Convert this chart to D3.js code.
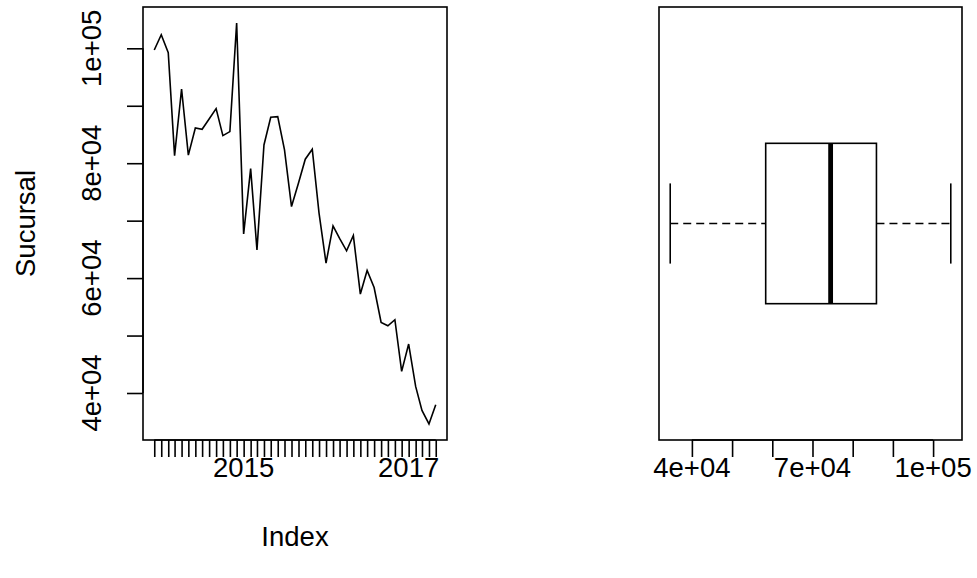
<!DOCTYPE html>
<html>
<head>
<meta charset="utf-8">
<script src="https://cdn.jsdelivr.net/npm/d3@7"></script>
<style>
  body { margin: 0; background: #fff; }
  svg text { font-family: "Liberation Sans", Arial, sans-serif; fill: #000; }
</style>
</head>
<body>
<svg id="chart" width="977" height="578"></svg>
<script>
// monthly series, Dec 2013 .. May 2017
var firstMonth = new Date(2013, 11, 1);
var sucursal = [
  99700, 102370, 99230, 81320, 92920, 81400, 86140, 85910, 87700, 89500,
  84800, 85500, 104400, 67700, 79060, 64920, 83180, 88000, 88100, 82310,
  72450, 76570, 80700, 82430, 71300, 62610, 69100, 66920, 64750, 67410,
  57220, 61320, 58360, 52280, 51700, 52750, 43760, 48520, 41150, 36970,
  34610, 37970
];
var yearLabels = [2015, 2017];
var yTicks = [40000, 50000, 60000, 70000, 80000, 90000, 100000];
var yLabels = [40000, 60000, 80000, 100000];
var boxTicks = [40000, 50000, 60000, 70000, 80000, 90000, 100000];
var boxLabels = [40000, 70000, 100000];

var months = sucursal.map(function(d, i) { return d3.timeMonth.offset(firstMonth, i); });
var series = sucursal.map(function(v, i) { return { date: months[i], value: v }; });

var svg = d3.select('#chart');
var fontSize = 27.5;
var lw = 1.6;

// R style number label, e.g. 4e+04
function sci(v) {
  var e = Math.floor(Math.log10(v));
  var m = +(v / Math.pow(10, e)).toFixed(6);
  return m + 'e+' + (e < 10 ? '0' + e : e);
}

// R pads the data range by 4% on each side
function padded(ext) {
  var r = ext[1] - ext[0];
  return [ext[0] - 0.04 * r, ext[1] + 0.04 * r];
}

/* ---------- left panel: time series ---------- */
var L = { left: 143, right: 447, top: 7, bottom: 440 };

var tExt = d3.extent(months).map(Number);
var x = d3.scaleTime()
  .domain(padded(tExt).map(function(t) { return new Date(t); }))
  .range([L.left, L.right]);

var y = d3.scaleLinear()
  .domain(padded(d3.extent(sucursal)))
  .range([L.bottom, L.top]);

var left = svg.append('g');

left.append('path')
  .datum(series)
  .attr('fill', 'none')
  .attr('stroke', '#000')
  .attr('stroke-width', lw)
  .attr('stroke-linejoin', 'miter')
  .attr('d', d3.line()
    .x(function(d) { return x(d.date); })
    .y(function(d) { return y(d.value); }));

left.append('rect')
  .attr('x', L.left).attr('y', L.top)
  .attr('width', L.right - L.left).attr('height', L.bottom - L.top)
  .attr('fill', 'none').attr('stroke', '#000').attr('stroke-width', lw);

// y axis
var yAxis = left.append('g')
  .attr('transform', 'translate(' + L.left + ',0)')
  .call(d3.axisLeft(y).tickValues(yTicks).tickSize(16).tickFormat(''));
yAxis.select('.domain')
  .attr('d', 'M0,' + y(yTicks[0]) + 'V' + y(yTicks[yTicks.length - 1]));
yAxis.selectAll('line, path').attr('stroke', '#000').attr('stroke-width', lw);

left.selectAll('text.ylab')
  .data(yLabels)
  .enter().append('text')
  .attr('class', 'ylab')
  .attr('transform', function(d) { return 'translate(101,' + y(d) + ') rotate(-90)'; })
  .attr('text-anchor', 'middle')
  .style('font-size', fontSize + 'px')
  .text(sci);

// x axis, one tick per month
var xAxis = left.append('g')
  .attr('transform', 'translate(0,' + L.bottom + ')')
  .call(d3.axisBottom(x).tickValues(months).tickSize(17).tickFormat(''));
xAxis.select('.domain')
  .attr('d', 'M' + x(months[0]) + ',0H' + x(months[months.length - 1]));
xAxis.selectAll('line, path').attr('stroke', '#000').attr('stroke-width', lw);

left.selectAll('text.xlab')
  .data(yearLabels)
  .enter().append('text')
  .attr('class', 'xlab')
  .attr('x', function(d) { return x(new Date(d, 0, 1)); })
  .attr('y', 477)
  .attr('text-anchor', 'middle')
  .style('font-size', fontSize + 'px')
  .text(function(d) { return d; });

left.append('text')
  .attr('x', (L.left + L.right) / 2)
  .attr('y', 546)
  .attr('text-anchor', 'middle')
  .style('font-size', fontSize + 'px')
  .text('Index');

left.append('text')
  .attr('transform', 'translate(35,' + (L.top + L.bottom) / 2 + ') rotate(-90)')
  .attr('text-anchor', 'middle')
  .style('font-size', fontSize + 'px')
  .text('Sucursal');

/* ---------- right panel: horizontal boxplot ---------- */
var R = { left: 659, right: 962, top: 7, bottom: 440 };

// Tukey five number summary (as R's boxplot)
function fivenum(vals) {
  var s = vals.slice().sort(d3.ascending);
  var n = s.length;
  var n4 = Math.floor((n + 3) / 2) / 2;
  var idx = [1, n4, (n + 1) / 2, n + 1 - n4, n];
  return idx.map(function(k) {
    return 0.5 * (s[Math.floor(k) - 1] + s[Math.ceil(k) - 1]);
  });
}
var stats = fivenum(sucursal);

var bx = d3.scaleLinear()
  .domain(padded([stats[0], stats[4]]))
  .range([R.left, R.right]);

// vertical position: box spans 0.4 either side of 1
var by = d3.scaleLinear()
  .domain([-0.08, 2.08])
  .range([R.bottom, R.top]);

var right = svg.append('g');

// whiskers
right.selectAll('line.whisker')
  .data([[stats[0], stats[1]], [stats[3], stats[4]]])
  .enter().append('line')
  .attr('class', 'whisker')
  .attr('x1', function(d) { return bx(d[0]); })
  .attr('x2', function(d) { return bx(d[1]); })
  .attr('y1', by(1)).attr('y2', by(1))
  .attr('stroke', '#000').attr('stroke-width', lw)
  .attr('stroke-dasharray', '8,5');

// staples
right.selectAll('line.staple')
  .data([stats[0], stats[4]])
  .enter().append('line')
  .attr('class', 'staple')
  .attr('x1', function(d) { return bx(d); })
  .attr('x2', function(d) { return bx(d); })
  .attr('y1', by(1.2)).attr('y2', by(0.8))
  .attr('stroke', '#000').attr('stroke-width', lw);

// box
right.append('rect')
  .attr('x', bx(stats[1]))
  .attr('y', by(1.4))
  .attr('width', bx(stats[3]) - bx(stats[1]))
  .attr('height', by(0.6) - by(1.4))
  .attr('fill', '#fff')
  .attr('stroke', '#000').attr('stroke-width', lw);

// median
right.append('line')
  .attr('x1', bx(stats[2])).attr('x2', bx(stats[2]))
  .attr('y1', by(1.4)).attr('y2', by(0.6))
  .attr('stroke', '#000').attr('stroke-width', lw * 3);

right.append('rect')
  .attr('x', R.left).attr('y', R.top)
  .attr('width', R.right - R.left).attr('height', R.bottom - R.top)
  .attr('fill', 'none').attr('stroke', '#000').attr('stroke-width', lw);

var bAxis = right.append('g')
  .attr('transform', 'translate(0,' + R.bottom + ')')
  .call(d3.axisBottom(bx).tickValues(boxTicks).tickSize(17).tickFormat(''));
bAxis.select('.domain')
  .attr('d', 'M' + bx(boxTicks[0]) + ',0H' + bx(boxTicks[boxTicks.length - 1]));
bAxis.selectAll('line, path').attr('stroke', '#000').attr('stroke-width', lw);

right.selectAll('text.blab')
  .data(boxLabels)
  .enter().append('text')
  .attr('class', 'blab')
  .attr('x', function(d) { return bx(d); })
  .attr('y', 477)
  .attr('text-anchor', 'middle')
  .style('font-size', fontSize + 'px')
  .text(sci);
</script>
</body>
</html>
